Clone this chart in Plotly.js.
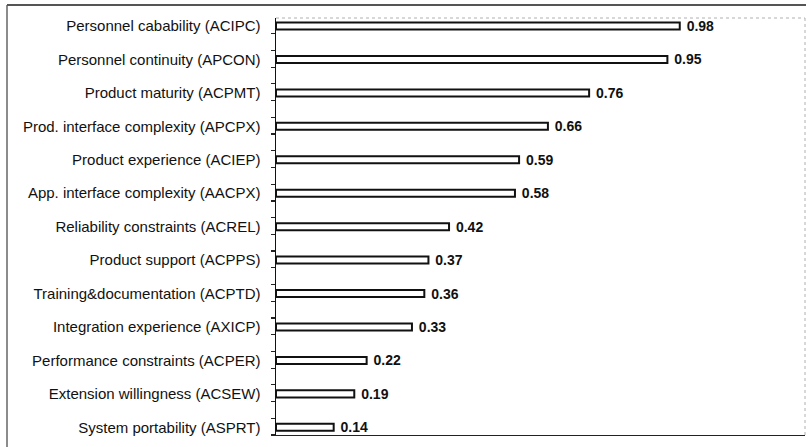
<!DOCTYPE html>
<html>
<head>
<meta charset="utf-8">
<script src="https://cdn.plot.ly/plotly-3.0.1.min.js"></script>
<style>
  html, body { margin: 0; padding: 0; background: #ffffff; }
  #chart { width: 809px; height: 447px; }
</style>
</head>
<body>
<div id="chart"></div>
<script>
// ---- data (top to bottom) ----
var categories = [
  "Personnel cabability (ACIPC)",
  "Personnel continuity (APCON)",
  "Product maturity (ACPMT)",
  "Prod. interface complexity (APCPX)",
  "Product experience (ACIEP)",
  "App. interface complexity (AACPX)",
  "Reliability constraints (ACREL)",
  "Product support (ACPPS)",
  "Training&documentation (ACPTD)",
  "Integration experience (AXICP)",
  "Performance constraints (ACPER)",
  "Extension willingness (ACSEW)",
  "System portability (ASPRT)"
];
var values = [0.98, 0.95, 0.76, 0.66, 0.59, 0.58, 0.42, 0.37, 0.36, 0.33, 0.22, 0.19, 0.14];

// category positions on the y axis (row index, top = 0)
var rowIndex = categories.map(function (c, i) { return i; });

// ---- layout geometry ----
var W = 809, H = 447;
var M = {l: 276, r: 4, t: 18, b: 12};
var plotW = W - M.l - M.r, plotH = H - M.t - M.b;
function px2x(px) { return (px - M.l) / plotW; }
function py2y(py) { return (H - M.b - py) / plotH; }

var FONT = "Liberation Sans, Arial, Helvetica, sans-serif";

var traces = [
  {
    type: "bar",
    orientation: "h",
    y: rowIndex,
    x: values,
    width: 0.21,
    marker: {color: "#ffffff", line: {color: "#111111", width: 2}},
    texttemplate: "\u00a0%{x:.2f}",
    textposition: "outside",
    constraintext: "none",
    cliponaxis: false,
    textfont: {family: FONT, size: 14, color: "#111111", weight: "bold"},
    hoverinfo: "skip",
    showlegend: false
  }
];

var layout = {
  width: W,
  height: H,
  margin: M,
  paper_bgcolor: "#ffffff",
  plot_bgcolor: "#ffffff",
  showlegend: false,
  font: {family: FONT, color: "#111111"},
  xaxis: {
    range: [0, 1.284],
    showline: true,
    linecolor: "#222222",
    linewidth: 1,
    showticklabels: false,
    ticks: "",
    showgrid: false,
    zeroline: false,
    fixedrange: true
  },
  yaxis: {
    type: "linear",
    range: [12.23, -0.24],
    tickmode: "array",
    tickvals: rowIndex,
    ticktext: categories,
    showline: true,
    linecolor: "#111111",
    linewidth: 1.5,
    ticks: "outside",
    ticklen: 5,
    tickcolor: "rgba(0,0,0,0)",
    ticklabelstandoff: 6,
    tickfont: {family: FONT, size: 15, color: "#111111"},
    minor: {
      tickmode: "linear",
      tick0: 0.23,
      dtick: 0.5,
      ticks: "outside",
      ticklen: 4,
      tickwidth: 1.2,
      tickcolor: "#222222",
      showgrid: false
    },
    showgrid: false,
    zeroline: false,
    fixedrange: true
  },
  shapes: [
    // outer frame: left and top
    {type: "line", xref: "paper", yref: "paper", x0: px2x(7), x1: px2x(7), y0: py2y(5), y1: py2y(447),
     line: {color: "#666666", width: 1.5}},
    {type: "line", xref: "paper", yref: "paper", x0: px2x(7), x1: px2x(806), y0: py2y(5), y1: py2y(5),
     line: {color: "#555555", width: 2}},
    // faint plot-area border: top and right
    {type: "line", xref: "paper", yref: "paper", x0: 0, x1: 1, y0: 1, y1: 1,
     line: {color: "#b0b0b0", width: 1, dash: "dot"}},
    {type: "line", xref: "paper", yref: "paper", x0: 1, x1: 1, y0: 0, y1: 1,
     line: {color: "#b0b0b0", width: 1, dash: "dot"}}
  ]
};

Plotly.newPlot("chart", traces, layout, {displayModeBar: false, staticPlot: true});
</script>
</body>
</html>
